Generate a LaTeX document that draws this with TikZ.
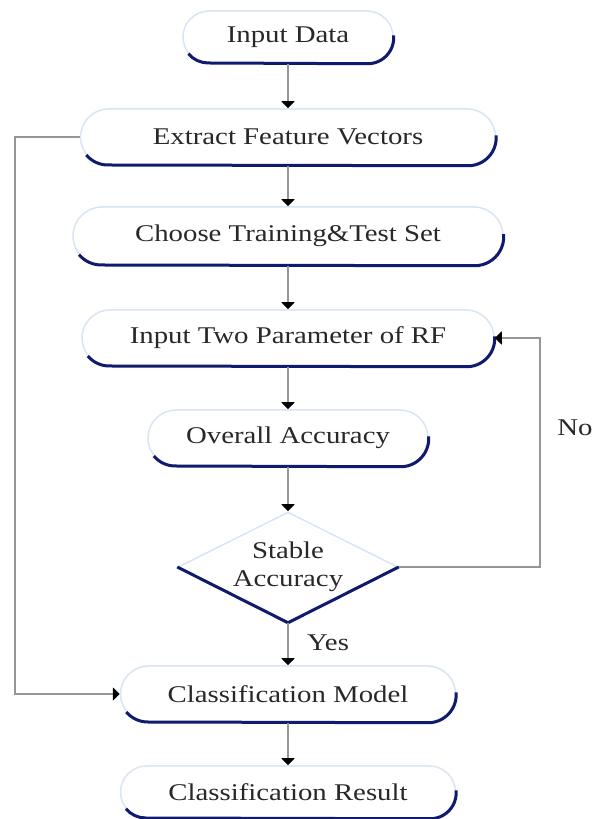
\documentclass[tikz,border=0pt]{standalone}
\usepackage{fontspec}
\setmainfont{Liberation Serif}[FakeStretch=1.2]
\usetikzlibrary{arrows.meta,shapes.geometric,calc}

\definecolor{rimlight}{RGB}{218,228,242}
\definecolor{rimdark}{RGB}{16,26,110}
\definecolor{wire}{RGB}{150,150,150}
\definecolor{ink}{RGB}{40,40,40}

\tikzset{
  x=1pt, y=1pt,
  txt/.style={text=ink, font=\fontsize{24}{28}\selectfont},
  capsule/.style={txt, draw=rimlight, line width=1.5pt, fill=white, inner sep=0pt},
  decision/.style={txt, diamond, shape aspect=2, draw=rimlight, line width=1.5pt,
    fill=white, inner sep=0pt, align=center},
  rim/.style={draw=rimdark, line width=3pt},
  flow/.style={draw=wire, line width=2pt,
    -{Triangle[length=7pt,width=13pt,color=black]}},
}

% rounded process box with a dark lower rim
\newcommand\capsulenode[5]{% name, centre, width, height, label
  \node[capsule, rounded corners={#4*0.5pt}, minimum width=#3pt,
        minimum height=#4pt] (#1) at (#2) {#5};
  \draw[rim] ($(#1.west)+(#4*0.5,0)+(220:#4*0.5)$)
    arc[start angle=220, end angle=270, radius=#4*0.5pt]
    -- ($(#1.south east)+(-#4*0.5,0)$)
    arc[start angle=-90, end angle=5, radius=#4*0.5pt];
}

\begin{document}
\begin{tikzpicture}
\useasboundingbox (0,0) rectangle (595,819);

\capsulenode{in}{288,782}{210}{52}{Input Data}
\capsulenode{ext}{288,682}{415}{56}{Extract Feature Vectors}
\capsulenode{cho}{288,583}{430}{58}{Choose Training\&Test Set}
\capsulenode{par}{288,481}{412}{56}{Input Two Parameter of RF}
\capsulenode{acc}{288,381}{280}{56}{Overall Accuracy}

\node[decision, minimum width=220pt, minimum height=110pt] (dia) at (288,252)
  {Stable\\Accuracy};
\draw[rim] (dia.west) -- (dia.south) -- (dia.east);

\capsulenode{cm}{288,125}{335}{56}{Classification Model}
\capsulenode{res}{288,27}{335}{52}{Classification Result}

% main flow
\draw[flow] (in.south) -- (ext.north);
\draw[flow] (ext.south) -- (cho.north);
\draw[flow] (cho.south) -- (par.north);
\draw[flow] (par.south) -- (acc.north);
\draw[flow] (acc.south) -- (dia.north);
\draw[flow] (dia.south) -- (cm.north);
\draw[flow] (cm.south) -- (res.north);

% side loops
\coordinate (lj) at (15,0);
\coordinate (rj) at (540,0);
\draw[flow] (ext.west) -- (ext.west -| lj) |- (cm.west);
\draw[flow] (dia.east) -- (dia.east -| rj) |- (par.east);

\node[txt] (yes) at (328,176) {Yes};
\node[txt] (no) at (575,391) {No};
\end{tikzpicture}
\end{document}
